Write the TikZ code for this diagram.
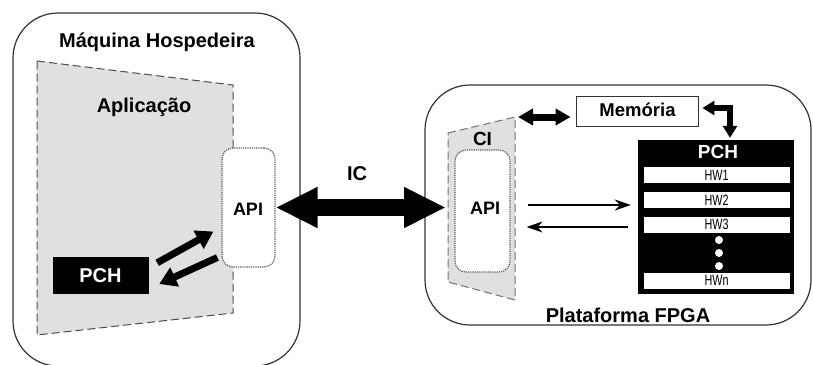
\documentclass[tikz,border=0pt]{standalone}
\usepackage{fontspec}
\setmainfont{Liberation Sans}
\usetikzlibrary{arrows.meta,calc}
\begin{document}
\begin{tikzpicture}[x=1pt,y=-1pt,
  lbl/.style={font=\fontsize{20}{22}\selectfont\bfseries, inner sep=0pt, anchor=base},
  bigbox/.style={draw=black!80, line width=1.2pt, rounded corners=45pt},
  trap/.style={draw=black!70, dash pattern=on 8pt off 4pt, line width=1pt, fill=black!12},
  apibox/.style={draw=black!65, densely dotted, line width=1.2pt, rounded corners=11pt, fill=white},
  blackbox/.style={fill=black, draw=black, inner sep=0pt},
  hwbar/.style={fill=white, draw=black, line width=0.6pt, inner sep=0pt, minimum width=147pt, minimum height=17pt,
     font=\fontsize{15}{16}\selectfont},
  fatarrow/.style={line width=7pt, -{Triangle[width=20pt,length=17pt]}},
  thinarrow/.style={line width=1.5pt, -{Stealth[length=16pt,width=11pt]}}
]
\useasboundingbox (0,0) rectangle (813,364);
% host machine
\node[bigbox, minimum width=287pt, minimum height=353pt, inner sep=0pt] (host) at (156.5,189.5) {};
\node[lbl] (hosttxt) at (157,47) {Máquina Hospedeira};
\draw[trap] (37,61) -- (233,85) -- (233,313) -- (37,335) -- cycle;
\node[lbl] (apptxt) at (144,112) {Aplicação};
\node[apibox, minimum width=53pt, minimum height=119pt] (apiL) at (248.5,207.5) {};
\node[lbl, font=\fontsize{18}{20}\selectfont\bfseries] at (248,215) {API};
\node[blackbox, minimum width=95pt, minimum height=36pt] (pchL) at (100.5,275) {};
\node[lbl, text=white] at (pchL.center) [yshift=-7pt] {PCH};
\coordinate (a1s) at ($(pchL.north east)+(9,6)$);
\coordinate (a1e) at ($(apiL.west)+(-8,24)$);
\draw[fatarrow] (a1s) -- (a1e);
\coordinate (a2s) at ($(apiL.west)+(-4,50)$);
\coordinate (a2e) at ($(pchL.east)+(11,9)$);
\draw[fatarrow] (a2s) -- (a2e);

% FPGA platform
\node[bigbox, minimum width=386pt, minimum height=240pt, inner sep=0pt] (fpga) at (618,205) {};
\node[lbl] at (628,322) {Plataforma FPGA};
\draw[trap, draw=black!55] (448,133) -- (515,117) -- (515,300) -- (448,282) -- cycle;
\node[lbl, font=\fontsize{19}{20}\selectfont\bfseries] at (482.5,145) {CI};
\node[apibox, minimum width=55pt, minimum height=122pt] (apiR) at (482.5,211) {};
\node[lbl, font=\fontsize{18}{20}\selectfont\bfseries] at (485,214) {API};
\coordinate (ciL) at (446,207.5);

% IC arrow
\draw[line width=17pt, {Triangle[width=38pt,length=42pt]}-{Triangle[width=38pt,length=42pt]}] (apiL.east) -- (ciL);
\node[lbl] at (357,180) {IC};

% memory
\node[draw=black!80, line width=0.9pt, minimum width=122pt, minimum height=30pt, inner sep=0pt] (mem) at (637,111) {};
\node[lbl, font=\fontsize{18.5}{20}\selectfont\bfseries] at (637.5,116) {Memória};
\coordinate (ciT) at (518,117);
\draw[line width=7pt, {Triangle[width=16pt,length=15pt]}-{Triangle[width=16pt,length=15pt]}] (ciT) -- ($(mem.west)+(-5,6)$);

% PCH FPGA
\node[blackbox, minimum width=155pt, minimum height=153pt] (pchR) at (715.5,216.5) {};
\node[lbl, font=\fontsize{19}{20}\selectfont\bfseries, text=white] at (718,158) {PCH};
\node[hwbar] (hw1) at (716.5,175) {\scalebox{0.72}[1]{HW1}};
\node[hwbar] (hw2) at (716.5,200) {\scalebox{0.72}[1]{HW2}};
\node[hwbar] (hw3) at (716.5,224.5) {\scalebox{0.72}[1]{HW3}};
\node[hwbar] (hwn) at (716.5,280.5) {\scalebox{0.72}[1]{HWn}};
\foreach \yy/\nm in {240/d1,253/d2,266/d3}
  \node[circle, fill=white, inner sep=0pt, minimum size=8pt] (\nm) at (719,\yy) {};

% elbow arrow memory <-> PCH
\coordinate (elb) at (730,108);
\draw[line width=5.5pt, {Triangle[width=14pt,length=12pt]}-{Triangle[width=14pt,length=12pt]}]
  ($(mem.east)+(4,-3)$) -- (elb) -- ($(pchR.north)+(14.5,-2)$);

% thin arrows
\draw[thinarrow] ($(apiR.east)+(17,-6)$) -- ($(pchR.west)+(-7,-11.5)$);
\draw[thinarrow] ($(pchR.west)+(-10,10.5)$) -- ($(apiR.east)+(16,16)$);
\end{tikzpicture}
\end{document}
